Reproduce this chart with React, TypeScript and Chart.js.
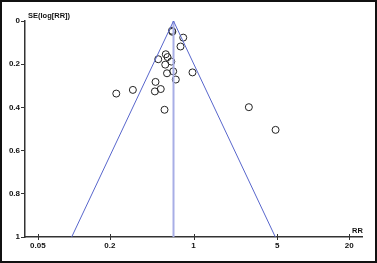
import React, { useEffect, useRef } from "react";
import { Chart, registerables } from "chart.js";

Chart.register(...registerables);

// Study estimates: risk ratio and its standard error of log(RR)
const studyRR = [0.66, 0.665, 0.82, 0.778, 0.586, 0.507, 0.606, 0.652, 0.58, 0.676, 0.6, 0.98, 0.711, 0.481, 0.532, 0.475, 0.311, 0.226, 0.572, 2.9, 4.85];
const studySE = [0.045, 0.05, 0.077, 0.118, 0.154, 0.177, 0.167, 0.188, 0.202, 0.233, 0.242, 0.238, 0.271, 0.282, 0.315, 0.326, 0.319, 0.336, 0.411, 0.399, 0.504];
const pooledRR = 0.68;
const funnelSE = [0, 1];
const xTicks = [0.05, 0.2, 1, 5, 20];
const yTicks = [0, 0.2, 0.4, 0.6, 0.8, 1];
const xMin = 0.039;
const xMax = 25.6;

const FONT = "Arial, 'Liberation Sans', sans-serif";

export default function App() {
  const ref = useRef<HTMLCanvasElement | null>(null);

  useEffect(() => {
    document.body.style.margin = "0";
    const canvas = ref.current;
    if (!canvas) return;

    const points = studyRR.map((r, i) => ({ x: r, y: studySE[i] }));
    const leftFunnel = funnelSE.map((s) => ({ x: pooledRR * Math.exp(-1.96 * s), y: s }));
    const rightFunnel = funnelSE.map((s) => ({ x: pooledRR * Math.exp(1.96 * s), y: s }));
    const centre = funnelSE.map((s) => ({ x: pooledRR, y: s }));

    const decor = {
      id: "decor",
      afterDraw(chart: any) {
        const ctx = chart.ctx;
        const area = chart.chartArea;
        const xs = chart.scales.x;
        ctx.save();
        // frame
        ctx.strokeStyle = "#111";
        ctx.lineWidth = 2;
        ctx.strokeRect(1, 1, chart.width - 2, chart.height - 2);
        // x tick marks crossing axis
        ctx.strokeStyle = "#333";
        ctx.lineWidth = 1;
        xTicks.forEach((t) => {
          const px = Math.round(xs.getPixelForValue(t)) + 0.5;
          ctx.beginPath();
          ctx.moveTo(px, area.bottom - 3);
          ctx.lineTo(px, area.bottom + 3);
          ctx.stroke();
        });
        // texts
        ctx.fillStyle = "#111";
        ctx.font = "bold 7.5px " + FONT;
        ctx.textBaseline = "middle";
        ctx.textAlign = "left";
        ctx.fillText("SE(log[RR])", area.left + 3, 16);
        ctx.fillText("RR", area.right - 10, area.bottom - 6);
        ctx.restore();
      },
    };

    const chart = new Chart(canvas, {
      type: "scatter",
      data: {
        datasets: [
          {
            type: "line",
            data: leftFunnel,
            borderColor: "#5866cc",
            borderWidth: 1,
            pointRadius: 0,
            fill: false,
          },
          {
            type: "line",
            data: rightFunnel,
            borderColor: "#5866cc",
            borderWidth: 1,
            pointRadius: 0,
            fill: false,
          },
          {
            type: "line",
            data: centre,
            borderColor: "#a8aee6",
            borderWidth: 2,
            pointRadius: 0,
            fill: false,
          },
          {
            data: points,
            pointStyle: "circle",
            pointRadius: 3.5,
            pointBorderColor: "#222",
            pointBorderWidth: 1,
            pointBackgroundColor: "rgba(255,255,255,0)",
          },
        ],
      },
      options: {
        responsive: false,
        animation: false,
        layout: { padding: { left: 0, top: 21, right: 15, bottom: 0 } },
        plugins: { legend: { display: false }, tooltip: { enabled: false } },
        scales: {
          x: {
            type: "logarithmic",
            min: xMin,
            max: xMax,
            afterBuildTicks: (scale: any) => {
              scale.ticks = xTicks.map((v) => ({ value: v }));
            },
            afterFit: (scale: any) => {
              scale.height = 26;
            },
            ticks: {
              autoSkip: false,
              maxRotation: 0,
              padding: 1,
              color: "#111",
              font: { family: FONT, size: 8, weight: "bold" },
              callback: (v: any) => String(v),
            },
            grid: { display: true, drawOnChartArea: false, drawTicks: true, tickLength: 3, color: "rgba(0,0,0,0)" },
            border: { display: true, color: "#333", width: 1.5 },
          },
          y: {
            reverse: true,
            min: 0,
            max: 1,
            afterBuildTicks: (scale: any) => {
              scale.ticks = yTicks.map((v) => ({ value: v }));
            },
            afterFit: (scale: any) => {
              scale.width = 25;
            },
            ticks: {
              autoSkip: false,
              padding: 1,
              color: "#111",
              font: { family: FONT, size: 8, weight: "bold" },
              callback: (v: any) => String(v),
            },
            grid: { display: true, drawOnChartArea: false, drawTicks: true, tickLength: 4, color: "#333" },
            border: { display: true, color: "#333", width: 1.5 },
          },
        },
      },
      plugins: [decor],
    } as any);

    return () => chart.destroy();
  }, []);

  return (
    <div style={{ width: 377, height: 263 }}>
      <canvas ref={ref} width={377} height={263} style={{ display: "block" }} />
    </div>
  );
}
